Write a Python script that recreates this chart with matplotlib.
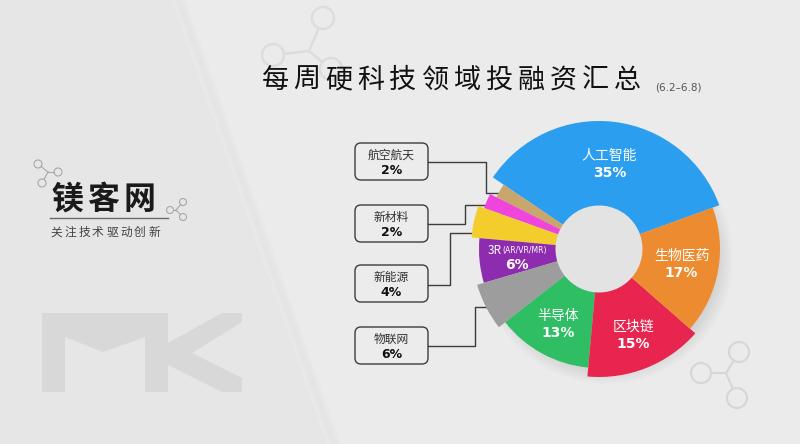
import numpy as np
import matplotlib.pyplot as plt
from matplotlib.patches import Circle, Polygon, FancyBboxPatch

plt.rcParams['font.family'] = ['Noto Sans CJK SC', 'DejaVu Sans']

# 数据(逆时针, 从20°开始)
categories = ['人工智能', '航空航天', '新材料', '新能源', '3R', '物联网', '半导体', '区块链', '生物医药']
shares = [35, 2, 2, 4, 6, 6, 13, 15, 17]
inside = ['人工智能', '3R', '半导体', '区块链', '生物医药']
callouts = ['航空航天', '新材料', '新能源', '物联网']

title = '每周硬科技领域投融资汇总'
date_text = '(6.2–6.8)'
logo = '镁客网'
slogan = '关注技术驱动创新'

# 样式
colors = ['#2b9ef0', '#c9a66b', '#ef45dc', '#f2cd2c', '#8d2cae', '#9d9d9d', '#2fbe64', '#e7254f', '#ec8b2f']
radii = [128, 115, 122, 128, 120, 127, 119, 128, 121]  # 外半径(像素)
label_r = [85, 0, 0, 0, 82, 0, 86, 93, 84]
inner_r = 43.5
start_deg = 20
cx, cy, R = 599, 249, 140

fig = plt.figure(figsize=(8, 4.44), dpi=100)
fig.patch.set_facecolor('#e6e6e6')

# 背景层 (像素坐标)
bg = fig.add_axes([0, 0, 1, 1])
bg.set_xlim(0, 800)
bg.set_ylim(444, 0)
bg.axis('off')
bg.add_patch(Polygon([(172, 0), (800, 0), (800, 444), (327, 444)], closed=True,
                     facecolor='#ebebeb', edgecolor='none'))
for k in range(5):
    d = 2 * k
    bg.add_patch(Polygon([(172 + d, 0), (178 + d, 0), (333 + d, 444), (327 + d, 444)],
                         closed=True, facecolor='#000000', alpha=0.008, edgecolor='none'))

# 分子装饰
def molecule(centers, r, joint, color, lw):
    for (x, y) in centers:
        bg.add_patch(Circle((x, y), r, fill=False, edgecolor=color, lw=lw))
        v = np.array([x - joint[0], y - joint[1]], dtype=float)
        n = np.hypot(*v)
        p = np.array(joint) + v / n * (n - r)
        bg.plot([joint[0], p[0]], [joint[1], p[1]], color=color, lw=lw)

molecule([(323, 18), (273, 55), (331, 69)], 11, (309, 51), '#dddddd', 1.8)
molecule([(739, 352), (701, 373), (737, 398)], 10, (726, 373), '#d6d6d6', 1.5)
molecule([(38, 164), (58, 172), (42, 183)], 4, (48, 172), '#a8a8a8', 0.8)
molecule([(170, 210), (183, 202), (183, 217)], 3.5, (176, 210), '#a8a8a8', 0.8)

# MK 字样
mk_color = '#d8d8d8'
bg.add_patch(Polygon([(42, 313), (168, 313), (168, 392), (145, 392), (145, 337),
                      (103, 352), (65, 337), (65, 392), (42, 392)],
                     closed=True, facecolor=mk_color, edgecolor='none'))
bg.add_patch(Polygon([(168, 343), (222, 313), (242, 313), (242, 322), (192, 353),
                      (242, 378), (242, 392), (222, 392), (168, 365)],
                     closed=True, facecolor=mk_color, edgecolor='none'))

# logo
for i, ch in enumerate(logo):
    bg.text(67 + 36 * i, 200, ch, fontsize=23, fontweight='bold', color='#1a1a1a',
            ha='center', va='center')
bg.plot([50, 168], [218, 218], color='#6a6a6a', lw=1)
for i, ch in enumerate(slogan):
    bg.text(56 + 14 * i, 232, ch, fontsize=8.5, color='#444444', ha='center', va='center')

# 标题
for i, ch in enumerate(title):
    bg.text(275 + 32 * i, 80, ch, fontsize=19.5, color='#111111', ha='center', va='center')
bg.text(655, 88, date_text, fontsize=7.5, color='#555555', ha='left', va='center',
        family=['DejaVu Sans'])

# 阴影 (右下方)
for k in range(8):
    bg.add_patch(Circle((cx + 8, cy + 9), 112 + 2 * k, facecolor='#000000',
                        alpha=0.012, edgecolor='none'))
bg.add_patch(Circle((cx, cy), inner_r + 1, facecolor='#e3e3e3', edgecolor='none'))

# 标注框和连线
box_tops = [143, 205, 265, 327]
lines = {
    '航空航天': [(428, 162), (486, 162), (486, 193), (512, 193)],
    '新材料': [(428, 224), (465, 224), (465, 205), (494, 205)],
    '新能源': [(428, 285), (450, 285), (450, 233), (487, 233)],
    '物联网': [(428, 346), (475, 346), (475, 307), (502, 307)],
}
for name, top in zip(callouts, box_tops):
    bg.add_patch(FancyBboxPatch((355, top), 73, 37, boxstyle='round,pad=0,rounding_size=6',
                                facecolor='#ececec', edgecolor='#3c3c3c', lw=1))
    pts = np.array(lines[name])
    bg.plot(pts[:, 0], pts[:, 1], color='#3c3c3c', lw=1)
    val = shares[categories.index(name)]
    bg.text(391.5, top + 12, name, fontsize=8.5, color='#333333', ha='center', va='center')
    bg.text(391.5, top + 27, f'{val}%', fontsize=9, fontweight='bold', color='#111111',
            ha='center', va='center', family=['DejaVu Sans'])

# 环形图
ax = fig.add_axes([(cx - R) / 800, (444 - cy - R) / 444, 2 * R / 800, 2 * R / 444],
                  projection='polar')
ax.set_ylim(0, R)
ax.set_axis_off()

shares_arr = np.array(shares, dtype=float)
widths = np.deg2rad(shares_arr * 3.6)
lefts = np.deg2rad(start_deg) + np.concatenate([[0], np.cumsum(widths)[:-1]])
ax.bar(lefts, np.array(radii) - inner_r, width=widths, bottom=inner_r, align='edge',
       color=colors, edgecolor='none')

for i, name in enumerate(categories):
    if name not in inside:
        continue
    mid = lefts[i] + widths[i] / 2
    r = label_r[i]
    if name == '3R':
        ax.annotate('3R', (mid, r), xytext=(-11, 5), textcoords='offset points',
                    fontsize=8.5, color='white', ha='right', va='center')
        ax.annotate('(AR/VR/MR)', (mid, r), xytext=(-11, 4.5), textcoords='offset points',
                    fontsize=5.5, color='white', ha='left', va='center', family=['DejaVu Sans'])
    else:
        ax.annotate(name, (mid, r), xytext=(0, 6), textcoords='offset points',
                    fontsize=10, color='white', ha='center', va='center')
    ax.annotate(f'{shares[i]}%', (mid, r), xytext=(0, -6), textcoords='offset points',
                fontsize=10, fontweight='heavy', color='white', ha='center', va='center',
                family=['DejaVu Sans'])

fig.savefig('out.png', dpi=100)
